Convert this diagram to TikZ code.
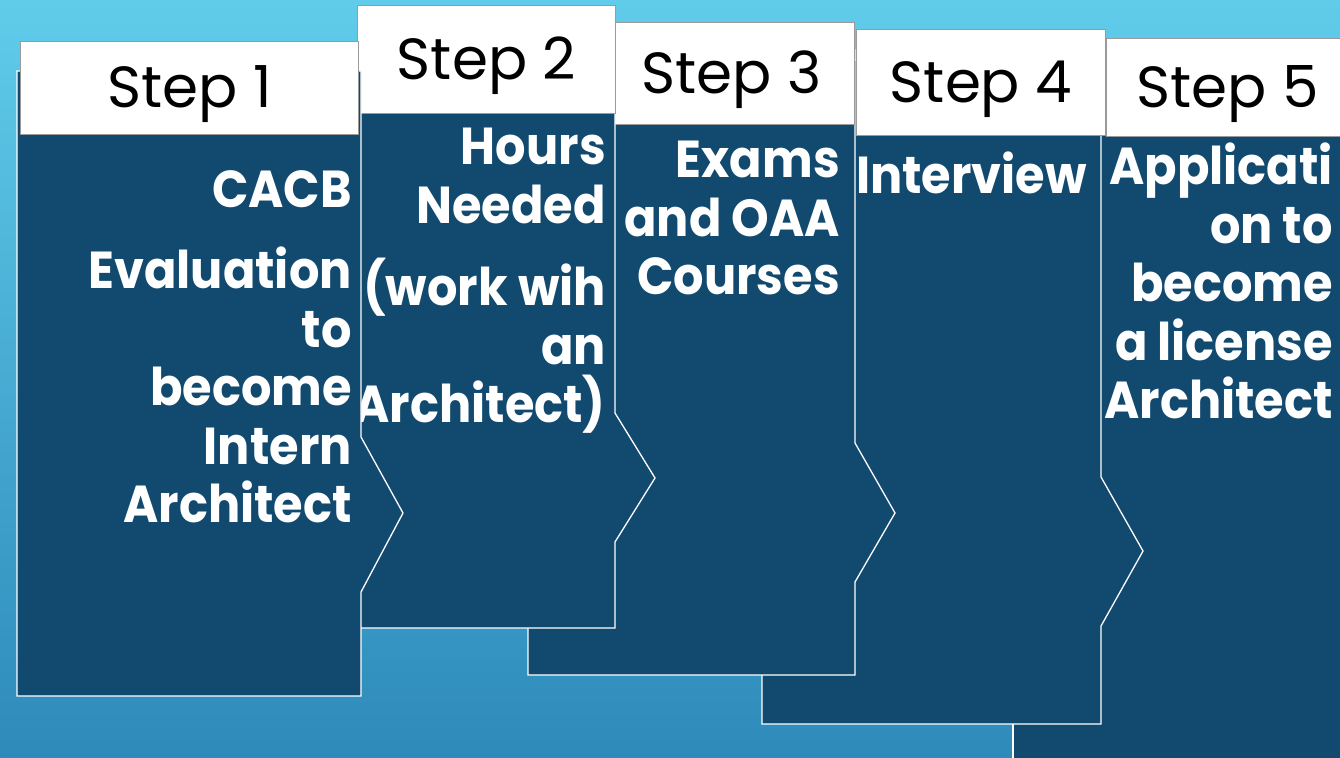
\documentclass[tikz,border=0pt]{standalone}
\usepackage{fontspec}
\setmainfont{Poppins}[BoldFeatures={FakeStretch=0.92}]
\definecolor{bgtop}{HTML}{60CCEA}
\definecolor{bgbot}{HTML}{2E8ABA}
\definecolor{panelblue}{HTML}{124A6F}
\definecolor{headline}{HTML}{9A9A9A}
\tikzset{
  panel/.style={fill=panelblue, draw=white, line width=1.3pt, line join=miter},
  header/.style={fill=white, draw=headline, line width=1pt, anchor=north west, inner sep=0pt,
    font=\fontsize{58}{58}\selectfont, text=black, text height=40pt, text depth=0pt},
  bodytext/.style={anchor=north east, inner sep=0pt, align=right, text=white,
    font=\fontsize{52}{58.5}\selectfont\bfseries}
}
\begin{document}
\begin{tikzpicture}[x=1pt,y=-1pt]
\useasboundingbox (0,0) rectangle (1340,757);
\clip (0,0) rectangle (1340,757);
\shade[top color=bgtop, bottom color=bgbot] (0,0) rectangle (1340,757);
% panel 5
\draw[panel] (1013,60) -- (1360,60) -- (1360,780) -- (1013,780) -- cycle;
\node[header, minimum width=242pt, minimum height=98pt] (h5) at (1106,38) {Step 5};
\node[bodytext] (t5) at (1333,143) {Applicati\\on to\\become\\a license\\Architect};
% panel 4
\draw[panel] (762,60) -- (1101,60) -- (1101,477) -- (1143,551) -- (1101,626) -- (1101,724) -- (762,724) -- cycle;
\node[header, minimum width=249pt, minimum height=106pt] (h4) at (856,29) {Step 4};
\node[bodytext] (t4) at (1087,152) {Interview};
% panel 3
\draw[panel] (528,50) -- (855,50) -- (855,443) -- (895,513) -- (855,582) -- (855,675) -- (528,675) -- cycle;
\node[header, minimum width=246pt, minimum height=102pt] (h3) at (608,22) {Step 3};
\node[bodytext] (t3) at (840,141) {Exams\\and OAA\\Courses};
% panel 2
\draw[panel] (300,45) -- (615,45) -- (615,413) -- (655,478) -- (615,542) -- (615,628) -- (300,628) -- cycle;
\node[header, minimum width=258pt, minimum height=108pt] (h2) at (357,5) {Step 2};
\node[bodytext] (t2) at (606,128) {Hours\\Needed\\[24pt](work wih\\an\\Architect)};
% panel 1
\draw[panel] (17,71) -- (361,71) -- (361,437) -- (403,513) -- (361,592) -- (361,696) -- (17,696) -- cycle;
\node[header, minimum width=338pt, minimum height=93pt] (h1) at (20,41) {Step 1};
\node[bodytext] (t1) at (352,170) {CACB\\[23pt]Evaluation\\to\\become\\Intern\\Architect};
\end{tikzpicture}
\end{document}
